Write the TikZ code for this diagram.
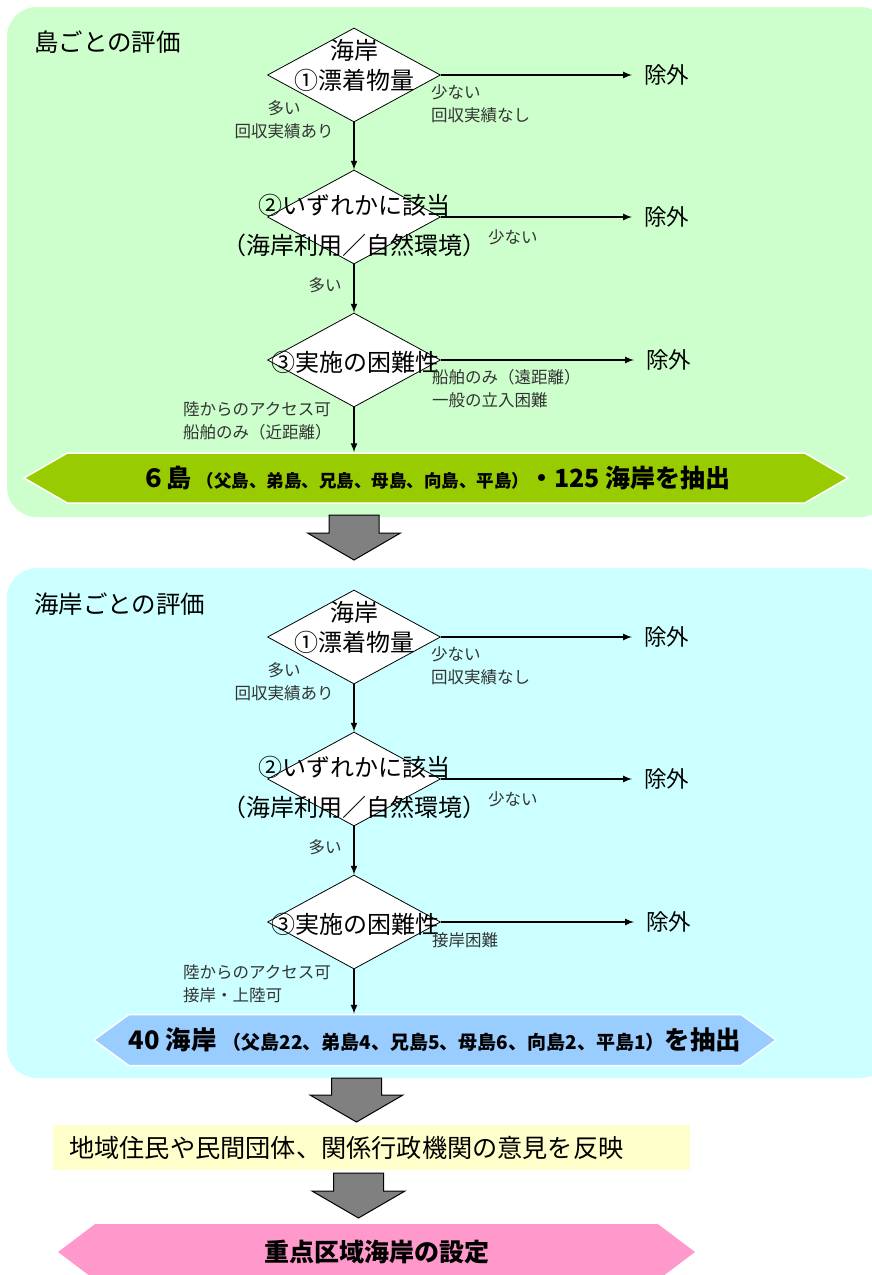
\documentclass[tikz,border=0pt]{standalone}
\usepackage{fontspec}
\setmainfont{Noto Sans CJK JP}
\usetikzlibrary{shapes.geometric,shapes.symbols}

\definecolor{panelgreen}{HTML}{CCFFCC}
\definecolor{panelcyan}{HTML}{CCFFFF}
\definecolor{hexgreen}{HTML}{99CC00}
\definecolor{hexblue}{HTML}{99CCFF}
\definecolor{hexpink}{HTML}{FF99CC}
\definecolor{advicebg}{HTML}{FFFFCC}
\definecolor{notegray}{HTML}{333333}

\tikzstyle{panel} = [rounded corners=30pt]
\tikzstyle{decision} = [diamond, draw, fill=white, line width=0.8pt, minimum width=173pt, minimum height=94pt, inner sep=0pt]
\tikzstyle{question} = [font=\fontsize{24}{30}\selectfont, align=center, inner sep=0pt]
\tikzstyle{title} = [anchor=west, inner sep=0pt, font=\fontsize{24.5}{28}\selectfont]
\tikzstyle{exclude} = [anchor=west, inner sep=0pt, inner xsep=12pt, font=\fontsize{22.5}{26}\selectfont]
\tikzstyle{note} = [inner sep=0pt, text=notegray, font=\fontsize{16.5}{23}\selectfont]
\tikzstyle{outcome} = [signal, signal to=west and east, draw=white, line width=1.5pt, inner sep=0pt, font=\bfseries]
\tikzstyle{line} = [draw, -latex, line width=2pt]
\tikzstyle{bigarrow} = [draw, fill=gray, line width=1pt, line join=miter]

\begin{document}
\begin{tikzpicture}[x=1pt, y=-1pt]
	\useasboundingbox (0,0) rectangle (872,1275);
	\clip (0,0) rectangle (872,1275);

	% island evaluation
	\fill[panelgreen, panel] (7,7) rectangle (890,517);
	\node[title] (titleA) at (34,42) {島ごとの評価};

	\node[decision] (d1) at (354,75) {};
	\node[decision] (d2) at (354,217) {};
	\node[decision] (d3) at (354,360) {};
	\node[question] (q1) at (354,65) {海岸\\①漂着物量};
	\node[question] (q2) at (354,225) {②いずれかに該当\\[10pt]（海岸利用／自然環境）};
	\node[question] (q3) at (355,362) {③実施の困難性};

	\node[exclude] (ex1) at (632,75) {除外};
	\node[exclude] (ex2) at (632,217) {除外};
	\node[exclude] (ex3) at (634,360) {除外};

	\node[note, align=center] (n1) at (284,120) {多い\\回収実績あり};
	\node[note, anchor=west, align=left] (n2) at (431,104) {少ない\\回収実績なし};
	\node[note, anchor=west] (n3) at (488,237) {少ない};
	\node[note] (n4) at (325,285) {多い};
	\node[note, anchor=west, align=left] (n5) at (432,389) {船舶のみ（遠距離）\\一般の立入困難};
	\node[note, anchor=west, align=left] (n6) at (183,421) {陸からのアクセス可\\船舶のみ（近距離）};

	\node[outcome, fill=hexgreen, minimum width=824pt, minimum height=50pt, signal pointer angle=60] (hexA) at (436,478)
		{{\fontsize{25}{28}\selectfont ６島 }{\fontsize{17.5}{20}\selectfont（父島、弟島、兄島、母島、向島、平島）}{\fontsize{25}{28}\selectfont ・125 海岸を抽出}};

	\path[line] (d1.south) -- (d2.north);
	\path[line] (d2.south) -- (d3.north);
	\path[line] (d3.south) -- (d3.south |- hexA.north);
	\path[line] (d1.east) -- (ex1.west);
	\path[line] (d2.east) -- (ex2.west);
	\path[line] (d3.east) -- (ex3.west);

	\draw[bigarrow] (329,515) -- ++(50,0) -- ++(0,18) -- ++(21.5,0) -- ++(-46.5,27) -- ++(-46.5,-27) -- ++(21.5,0) -- cycle;

	% coast evaluation
	\fill[panelcyan, panel] (7,568) rectangle (890,1078);
	\node[title] (titleB) at (34,604) {海岸ごとの評価};

	\node[decision] (d4) at (354,637) {};
	\node[decision] (d5) at (354,779) {};
	\node[decision] (d6) at (354,922) {};
	\node[question] (q4) at (354,627) {海岸\\①漂着物量};
	\node[question] (q5) at (354,787) {②いずれかに該当\\[10pt]（海岸利用／自然環境）};
	\node[question] (q6) at (355,924) {③実施の困難性};

	\node[exclude] (ex4) at (632,637) {除外};
	\node[exclude] (ex5) at (632,779) {除外};
	\node[exclude] (ex6) at (634,922) {除外};

	\node[note, align=center] (n7) at (284,682) {多い\\回収実績あり};
	\node[note, anchor=west, align=left] (n8) at (431,666) {少ない\\回収実績なし};
	\node[note, anchor=west] (n9) at (488,799) {少ない};
	\node[note] (n10) at (325,847) {多い};
	\node[note, anchor=west] (n11) at (432,940) {接岸困難};
	\node[note, anchor=west, align=left] (n12) at (183,984) {陸からのアクセス可\\接岸・上陸可};

	\node[outcome, fill=hexblue, minimum width=674pt, minimum height=51pt, signal pointer angle=72] (hexB) at (435,1040)
		{{\fontsize{25.5}{28}\selectfont 40 海岸 }{\fontsize{19}{20}\selectfont（父島22、弟島4、兄島5、母島6、向島2、平島1）}{\fontsize{25.5}{28}\selectfont を抽出}};

	\path[line] (d4.south) -- (d5.north);
	\path[line] (d5.south) -- (d6.north);
	\path[line] (d6.south) -- (d6.south |- hexB.north);
	\path[line] (d4.east) -- (ex4.west);
	\path[line] (d5.east) -- (ex5.west);
	\path[line] (d6.east) -- (ex6.west);

	% final steps
	\draw[bigarrow] (331.5,1078) -- ++(50,0) -- ++(0,17) -- ++(21.5,0) -- ++(-46.5,27) -- ++(-46.5,-27) -- ++(21.5,0) -- cycle;
	\node[fill=advicebg, anchor=west, text width=605pt, align=left, inner xsep=16pt, minimum height=45pt, font=\fontsize{25.2}{28}\selectfont] (advice) at (53,1147.5)
		{地域住民や民間団体、関係行政機関の意見を反映};
	\draw[bigarrow] (333.5,1173) -- ++(50,0) -- ++(0,18) -- ++(21.5,0) -- ++(-46.5,27) -- ++(-46.5,-27) -- ++(21.5,0) -- cycle;
	\node[outcome, fill=hexpink, draw=none, minimum width=637pt, minimum height=56pt, signal pointer angle=74, font=\bfseries\fontsize{25}{29}\selectfont] (hexC) at (376.5,1252)
		{重点区域海岸の設定};
\end{tikzpicture}
\end{document}
